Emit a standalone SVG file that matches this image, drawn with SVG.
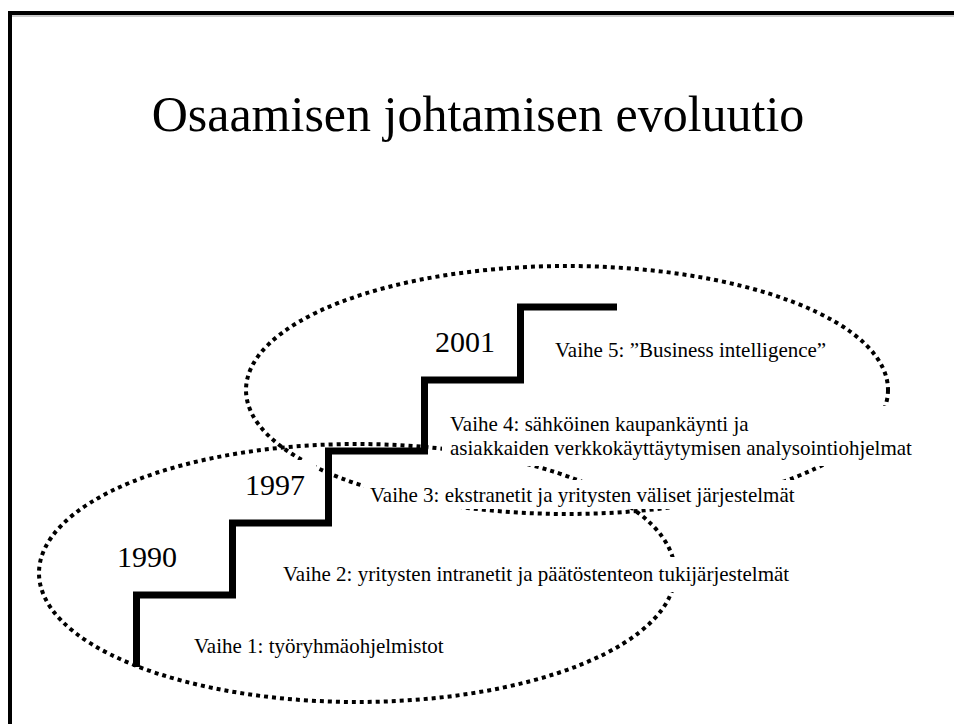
<svg xmlns="http://www.w3.org/2000/svg" width="954" height="724" viewBox="0 0 954 724">
  <style>
    .serif { font-family: "Liberation Serif", "Times New Roman", serif; fill: #000; }
    .title { font-size: 50px; }
    .year { font-size: 30px; }
    .phase { font-size: 21px; }
    .dotted { fill: none; stroke: #000; stroke-width: 4; stroke-dasharray: 4 4; }
    .mask { fill: #fff; stroke: none; }
    .stairs { fill: none; stroke: #000; stroke-width: 7; stroke-linejoin: miter; stroke-linecap: butt; }
  </style>

  <rect width="954" height="724" fill="#fff"/>

  <!-- slide frame: left and top edges only -->
  <g id="frame">
    <line x1="12" y1="16" x2="954" y2="16" stroke="#9a9a9a" stroke-width="1"/>
    <path d="M10 724 V13 H954" fill="none" stroke="#000" stroke-width="4"/>
  </g>

  <g id="title">
    <text class="serif title" x="478" y="131" text-anchor="middle">Osaamisen johtamisen evoluutio</text>
  </g>

  <!-- dotted period outlines -->
  <g id="periods">
    <ellipse id="period-1990-1997" class="dotted" cx="357" cy="573" rx="318" ry="129"/>
    <ellipse id="period-1997-2001" class="dotted" cx="567" cy="390" rx="321" ry="124"/>
  </g>

  <!-- opaque label backgrounds -->
  <g id="label-backgrounds">
    <rect class="mask" x="442" y="406" width="484" height="60"/>
    <rect class="mask" x="364" y="480" width="448" height="29"/>
    <rect class="mask" x="275" y="557" width="535" height="35"/>
    <rect class="mask" x="238" y="460" width="78" height="42"/>
  </g>

  <g id="stairs">
    <path class="stairs" d="M136.5 667 V595 H232.5 V523 H328.5 V451 H424.5 V380 H520.5 V307 H617"/>
  </g>

  <g id="years">
    <text class="serif year" x="117" y="567">1990</text>
    <text class="serif year" x="245" y="495">1997</text>
    <text class="serif year" x="435" y="352">2001</text>
  </g>

  <g id="phase-1"><text class="serif phase" x="194" y="653">Vaihe 1: työryhmäohjelmistot</text></g>
  <g id="phase-2"><text class="serif phase" x="283" y="581">Vaihe 2: yritysten intranetit ja päätöstenteon tukijärjestelmät</text></g>
  <g id="phase-3"><text class="serif phase" x="370" y="502">Vaihe 3: ekstranetit ja yritysten väliset järjestelmät</text></g>
  <g id="phase-4">
    <text class="serif phase" x="450" y="431">Vaihe 4: sähköinen kaupankäynti ja</text>
    <text class="serif phase" x="450" y="455">asiakkaiden verkkokäyttäytymisen analysointiohjelmat</text>
  </g>
  <g id="phase-5"><text class="serif phase" x="555" y="357">Vaihe 5: ”Business intelligence”</text></g>
</svg>
